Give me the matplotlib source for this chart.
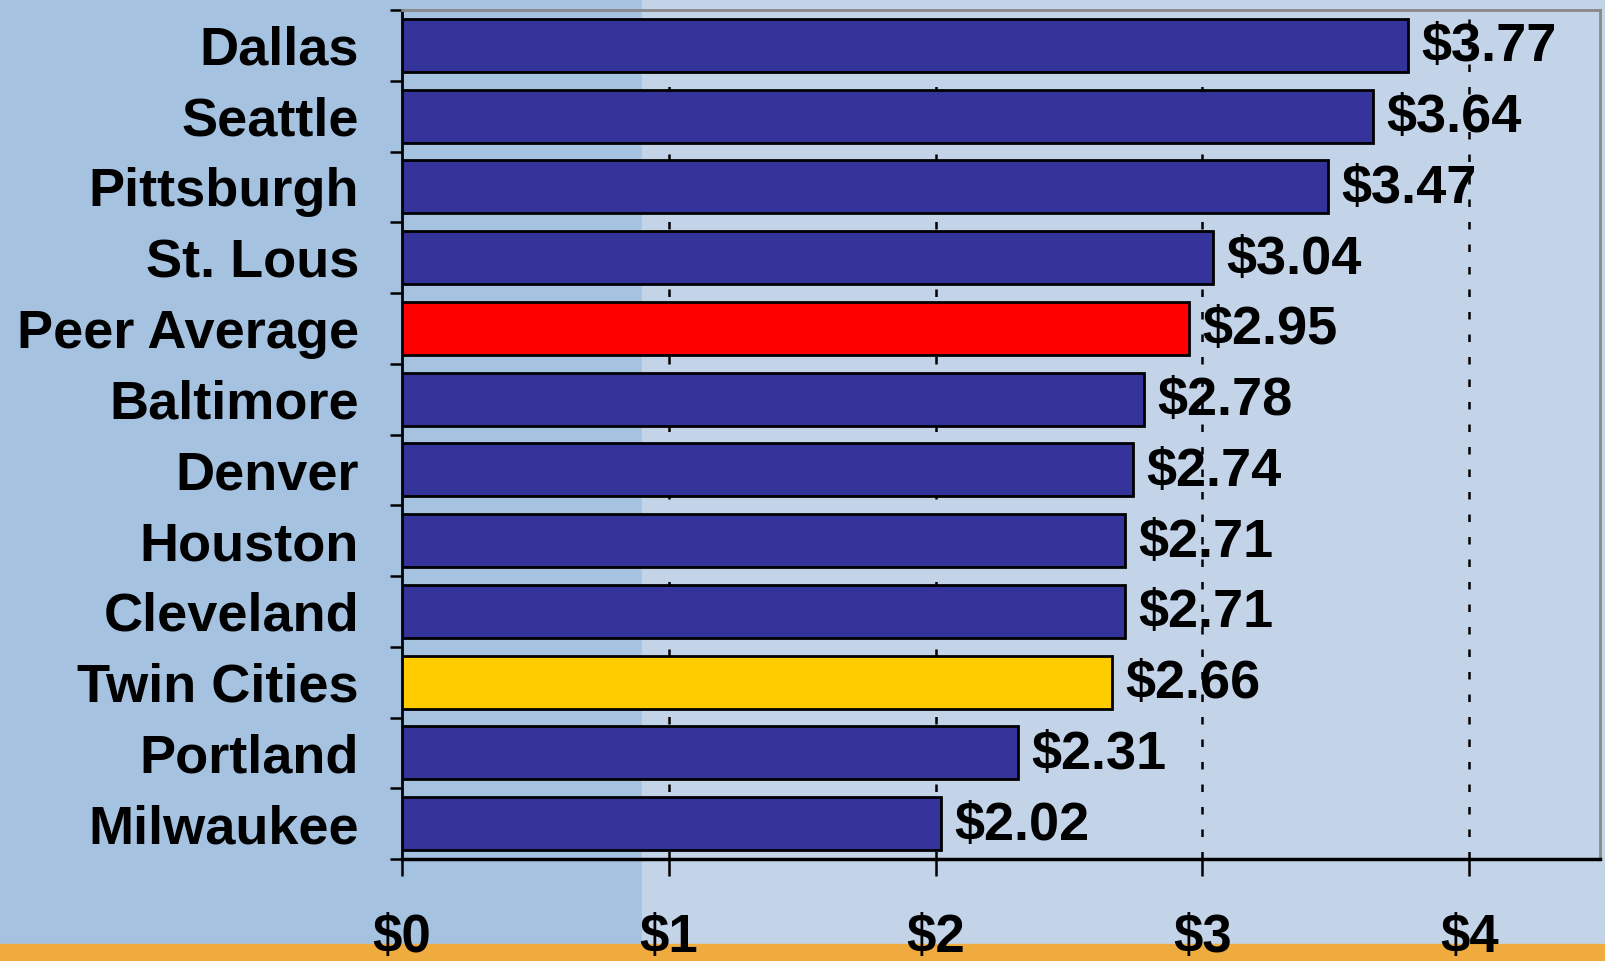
import numpy as np
import matplotlib
matplotlib.use('Agg')
import matplotlib.pyplot as plt
from matplotlib.patches import Rectangle

cities = ['Dallas', 'Seattle', 'Pittsburgh', 'St. Lous', 'Peer Average', 'Baltimore',
          'Denver', 'Houston', 'Cleveland', 'Twin Cities', 'Portland', 'Milwaukee']
costs = [3.77, 3.64, 3.47, 3.04, 2.95, 2.78, 2.74, 2.71, 2.71, 2.66, 2.31, 2.02]
xticks = [0, 1, 2, 3, 4]
xtick_labels = ['$0', '$1', '$2', '$3', '$4']

plt.rcParams['font.family'] = ['Liberation Sans', 'DejaVu Sans']
plt.rcParams['font.weight'] = 'bold'

fig = plt.figure(figsize=(16.05, 9.61), dpi=100)
# background: darker left panel, lighter right panel, orange strip at bottom
fig.patches.append(Rectangle((0, 0), 0.4, 1, transform=fig.transFigure, color='#A5C3E1', zorder=-10))
fig.patches.append(Rectangle((0.4, 0), 0.6, 1, transform=fig.transFigure, color='#C3D4E9', zorder=-10))
fig.patches.append(Rectangle((0, 0), 1, 0.018, transform=fig.transFigure, color='#EFAB3E', zorder=-9))

ax = fig.add_axes([402 / 1605, 1 - 859 / 961, (1600 - 402) / 1605, (859 - 10) / 961])
ax.set_facecolor('none')

colors = []
for c in cities:
    if c == 'Peer Average':
        colors.append('#FF0000')
    elif c == 'Twin Cities':
        colors.append('#FFCC00')
    else:
        colors.append('#333399')

y = np.arange(len(cities))
ax.barh(y, costs, height=0.75, color=colors, edgecolor='black', linewidth=2, zorder=3)
for yi, v in zip(y, costs):
    ax.text(v + 0.05, yi + 0.03, '$%.2f' % v, ha='left', va='center', fontsize=39, fontweight='bold', zorder=4)

ax.set_xlim(0, 4.49)
ax.set_ylim(len(cities) - 0.5, -0.5)

for xv in xticks[1:]:
    ax.axvline(xv, color='black', linestyle=(0, (3, 6)), linewidth=1.8, zorder=1)

ax.set_yticks(y)
ax.set_yticklabels(cities, fontsize=39, fontweight='bold')
ax.set_yticks(np.arange(-0.5, len(cities), 1), minor=True)
ax.tick_params(axis='y', which='major', length=0, pad=31)
ax.tick_params(axis='y', which='minor', length=9, width=1.8, direction='out')

ax.set_xticks(xticks)
ax.set_xticklabels(xtick_labels, fontsize=38, fontweight='bold')
ax.tick_params(axis='x', length=12, width=1.8, direction='out', pad=27)

ax.spines['left'].set_linewidth(2)
ax.spines['bottom'].set_linewidth(2.5)
ax.spines['top'].set_color('#888888')
ax.spines['right'].set_color('#888888')
ax.spines['top'].set_linewidth(2)
ax.spines['right'].set_linewidth(2)

fig.savefig('out.png', dpi=100)
